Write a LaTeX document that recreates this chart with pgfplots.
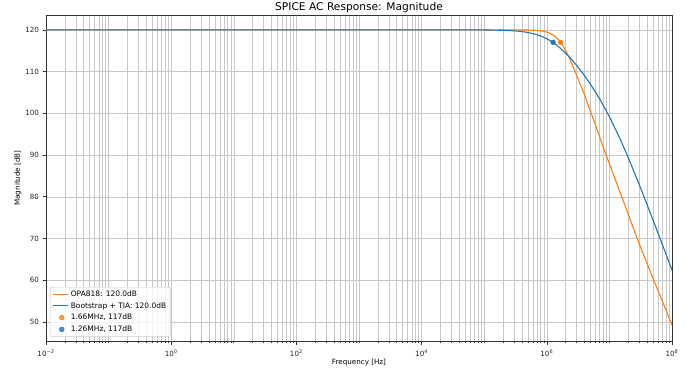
\documentclass[border=0pt]{standalone}
\usepackage{fontspec}
\setmainfont{DejaVu Sans}
\usepackage{pgfplots}
\pgfplotsset{compat=1.18}
\usepackage{pgfplotstable}

\definecolor{mplblue}{HTML}{1F77B4}
\definecolor{mplorange}{HTML}{FF7F0E}
\definecolor{gridgray}{HTML}{C8C8C8}
\definecolor{legendedge}{HTML}{CCCCCC}

% OPA818 magnitude response
\pgfplotstableread{
f dB
1e-2 120
1e3 120
1e4 120
1e5 120
2e5 119.99
3e5 119.98
5e5 119.95
7e5 119.85
8e5 119.75
9e5 119.63
1e6 119.45
1.1e6 119.22
1.2e6 118.95
1.3e6 118.62
1.4e6 118.22
1.5e6 117.78
1.66e6 117.0
1.8e6 116.2
2e6 115.0
2.25e6 113.5
2.5e6 111.9
3e6 109.1
3.5e6 106.6
4e6 104.4
5e6 100.4
6e6 97.2
7e6 94.3
8e6 91.8
1e7 87.9
1.5e7 80.8
2e7 75.8
3e7 68.7
4e7 64.0
5e7 60.4
7e7 55.0
1e8 49.3
}\opatable

% Bootstrap + TIA magnitude response
\pgfplotstableread{
f dB
1e-2 120
1e3 120
1e4 120
3e4 120
5e4 119.99
1e5 119.97
2e5 119.89
3e5 119.76
4e5 119.58
5e5 119.36
7e5 118.83
8e5 118.52
1e6 117.87
1.26e6 116.96
1.5e6 116.12
2e6 114.43
2.5e6 112.88
3e6 111.48
4e6 109.03
5e6 106.94
7e6 103.44
1e7 99.20
1.5e7 93.69
2e7 89.38
3e7 82.91
5e7 74.35
7e7 68.60
1e8 62.45
}\tiatable

\newcommand{\tp}[1]{10\textsuperscript{#1}}

\begin{document}
\begin{tikzpicture}
\path[use as bounding box] (-46bp,-29bp) rectangle (640bp,341bp);
\begin{axis}[
  at={(0,0)}, anchor=south west,
  xmode=log,
  width=626bp, height=326bp, scale only axis,
  xmin=1e-2, xmax=1e8, ymin=45.45, ymax=123.55,
  xtick={1e-2,1,1e2,1e4,1e6,1e8},
  xticklabels={\tp{−2},\tp{0},\tp{2},\tp{4},\tp{6},\tp{8}},
  minor xtick={2e-2,3e-2,4e-2,5e-2,6e-2,7e-2,8e-2,9e-2,1e-1,
    2e-1,3e-1,4e-1,5e-1,6e-1,7e-1,8e-1,9e-1,
    2,3,4,5,6,7,8,9,10,20,30,40,50,60,70,80,90,
    200,300,400,500,600,700,800,900,1e3,
    2e3,3e3,4e3,5e3,6e3,7e3,8e3,9e3,
    2e4,3e4,4e4,5e4,6e4,7e4,8e4,9e4,1e5,
    2e5,3e5,4e5,5e5,6e5,7e5,8e5,9e5,
    2e6,3e6,4e6,5e6,6e6,7e6,8e6,9e6,1e7,
    2e7,3e7,4e7,5e7,6e7,7e7,8e7,9e7},
  ytick={50,60,...,120},
  xmajorgrids, xminorgrids, ymajorgrids,
  grid style={gridgray, line width=0.55bp},
  major grid style={gridgray, line width=0.55bp},
  minor grid style={gridgray, line width=0.55bp},
  axis line style={black!80, line width=0.6bp},
  tick style={black!80, line width=0.6bp},
  tick align=outside, tick pos=left,
  major tick length=3.5bp, minor tick length=2bp,
  /pgf/number format/assume math mode=true,
  ticklabel style={font=\fontsize{7.2}{8.6}\selectfont, text=black!85},
  xticklabel style={yshift=-2bp},
  every axis title/.style={at={(axis description cs:0.5,1)}, anchor=base, yshift=4bp,
    font=\fontsize{10.7}{12}\selectfont},
  title={SPICE AC Response: Magnitude},
  every axis x label/.style={at={(axis description cs:0.5,0)}, anchor=center, yshift=-22bp,
    font=\fontsize{7.2}{8.6}\selectfont},
  xlabel={Frequency [Hz]},
  every axis y label/.style={at={(axis description cs:0,0.5)}, rotate=90, anchor=center, yshift=28bp,
    font=\fontsize{7.2}{8.6}\selectfont},
  ylabel={Magnitude [dB]},
  legend cell align=left,
  legend style={at={(axis description cs:0.0064,0.013)}, anchor=south west,
    draw=legendedge, fill=white, fill opacity=0.8, text opacity=1,
    rounded corners=2bp, line width=0.5bp,
    font=\fontsize{7.5}{8.7}\selectfont,
    inner xsep=2.5bp, inner ysep=1.5bp, row sep=0.6bp},
]
\addplot[mplorange, line width=1.1bp, legend image code/.code={\draw (0bp,0bp) -- (15bp,0bp);}]
  table[x=f, y=dB] {\opatable};
\addlegendentry{OPA818: 120.0dB}
\addplot[mplblue, line width=1.1bp, legend image code/.code={\draw (0bp,0bp) -- (15bp,0bp);}]
  table[x=f, y=dB] {\tiatable};
\addlegendentry{Bootstrap + TIA: 120.0dB}
\addplot[only marks, mark=*, mark size=2.4bp, mplorange, mark options={draw=mplorange, fill=mplorange}]
  coordinates {(1.66e6,117)};
\addlegendentry{1.66MHz, 117dB}
\addplot[only marks, mark=*, mark size=2.4bp, mplblue, mark options={draw=mplblue, fill=mplblue}]
  coordinates {(1.26e6,117)};
\addlegendentry{1.26MHz, 117dB}
\end{axis}
\end{tikzpicture}
\end{document}
